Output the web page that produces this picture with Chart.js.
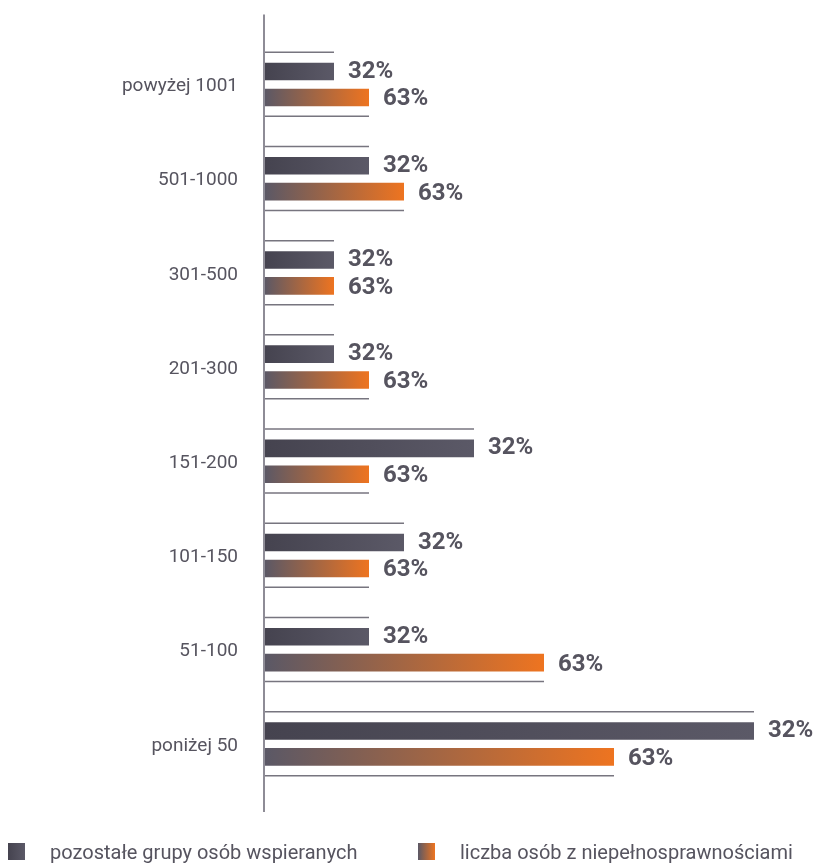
<!DOCTYPE html>
<html lang="pl">
<head>
<meta charset="utf-8">
<title>Liczba osób wspieranych</title>
<script src="https://cdn.jsdelivr.net/npm/chart.js@4.4.1/dist/chart.umd.min.js"></script>
<style>
  html, body { margin: 0; padding: 0; background: #fff; }
  .wrap { position: relative; width: 815px; height: 865px; }
  .legend { position: absolute; left: 0; top: 843px; width: 815px; height: 20px;
    font-family: Roboto, "Noto Sans", sans-serif; font-weight: 400; font-size: 20px; color: #56545f; }
  .legend .item { position: absolute; top: 0; display: flex; align-items: center; height: 17px; }
  .legend .box { width: 17px; height: 17px; margin-right: 25px; }
  .legend .dark { background: linear-gradient(to right, #45434f, #5b5967); }
  .legend .orange { background: linear-gradient(to right, #5a5866, #ee7420); }
</style>
</head>
<body>
<div class="wrap">
  <canvas id="chart" width="815" height="865"></canvas>
  <div class="legend">
    <div class="item" style="left: 8px;"><span class="box dark"></span>pozostałe grupy osób wspieranych</div>
    <div class="item" style="left: 418px;"><span class="box orange"></span>liczba osób z niepełnosprawnościami</div>
  </div>
</div>
<script>
// size of the institution (number of people supported)
const categories = ['powyżej 1001', '501-1000', '301-500', '201-300', '151-200', '101-150', '51-100', 'poniżej 50'];

// bar lengths
const otherGroups = [2, 3, 2, 2, 6, 4, 3, 14];
const disabledPersons = [3, 4, 2, 3, 3, 3, 8, 10];

// texts printed next to the bars
const otherGroupsText = ['32%', '32%', '32%', '32%', '32%', '32%', '32%', '32%'];
const disabledPersonsText = ['63%', '63%', '63%', '63%', '63%', '63%', '63%', '63%'];

const xMax = 15;

// each bar gets its own left-to-right gradient, from the axis to the bar's end
const barGradient = (from, to) => (ctx) => {
  const chart = ctx.chart;
  if (!chart.chartArea || ctx.type !== 'data') return to;
  const x0 = chart.scales.x.getPixelForValue(0);
  const x1 = chart.scales.x.getPixelForValue(ctx.raw);
  const g = chart.ctx.createLinearGradient(x0, 0, x1, 0);
  g.addColorStop(0, from);
  g.addColorStop(1, to);
  return g;
};

// thin rules above the first bar and below the second one, plus value texts
const barDecorations = {
  id: 'barDecorations',
  afterDatasetsDraw(chart) {
    const ctx = chart.ctx;
    const texts = [otherGroupsText, disabledPersonsText];
    ctx.save();
    chart.data.datasets.forEach((ds, di) => {
      const meta = chart.getDatasetMeta(di);
      meta.data.forEach((bar, i) => {
        const half = bar.height / 2;
        const y = di === 0 ? bar.y - half - 10.5 : bar.y + half + 10;
        ctx.strokeStyle = '#77757f';
        ctx.lineWidth = 1.5;
        ctx.beginPath();
        ctx.moveTo(bar.base, y);
        ctx.lineTo(bar.x, y);
        ctx.stroke();

        ctx.fillStyle = '#56545f';
        ctx.font = 'bold 24px Roboto, "Noto Sans", sans-serif';
        ctx.textAlign = 'left';
        ctx.textBaseline = 'middle';
        ctx.fillText(texts[di][i], bar.x + 14, bar.y + (di === 0 ? 0 : 2));
      });
    });

    // vertical axis line, a bit longer than the plot area
    const area = chart.chartArea;
    ctx.strokeStyle = '#8e8c96';
    ctx.lineWidth = 2;
    ctx.beginPath();
    ctx.moveTo(area.left, area.top - 23);
    ctx.lineTo(area.left, area.bottom + 21);
    ctx.stroke();
    ctx.restore();
  }
};

new Chart(document.getElementById('chart'), {
  type: 'bar',
  data: {
    labels: categories,
    datasets: [
      {
        label: 'pozostałe grupy osób wspieranych',
        data: otherGroups,
        backgroundColor: barGradient('#45434f', '#5b5967'),
      },
      {
        label: 'liczba osób z niepełnosprawnościami',
        data: disabledPersons,
        backgroundColor: barGradient('#5a5866', '#ee7420'),
      },
    ],
  },
  options: {
    indexAxis: 'y',
    responsive: false,
    animation: false,
    categoryPercentage: 0.55,
    barPercentage: 0.68,
    layout: { padding: { top: 35, bottom: 74, left: 0, right: 815 - 264 - xMax * 35 } },
    plugins: {
      legend: { display: false },
      tooltip: { enabled: false },
    },
    scales: {
      x: {
        display: false,
        min: 0,
        max: xMax,
      },
      y: {
        grid: { display: false, drawTicks: false },
        border: { display: false },
        ticks: {
          padding: 26,
          labelOffset: 2,
          color: '#56545f',
          font: { family: 'Roboto, "Noto Sans", sans-serif', size: 19, weight: 400 },
        },
        afterFit(scale) {
          scale.width = 264;
        },
      },
    },
  },
  plugins: [barDecorations],
});
</script>
</body>
</html>
